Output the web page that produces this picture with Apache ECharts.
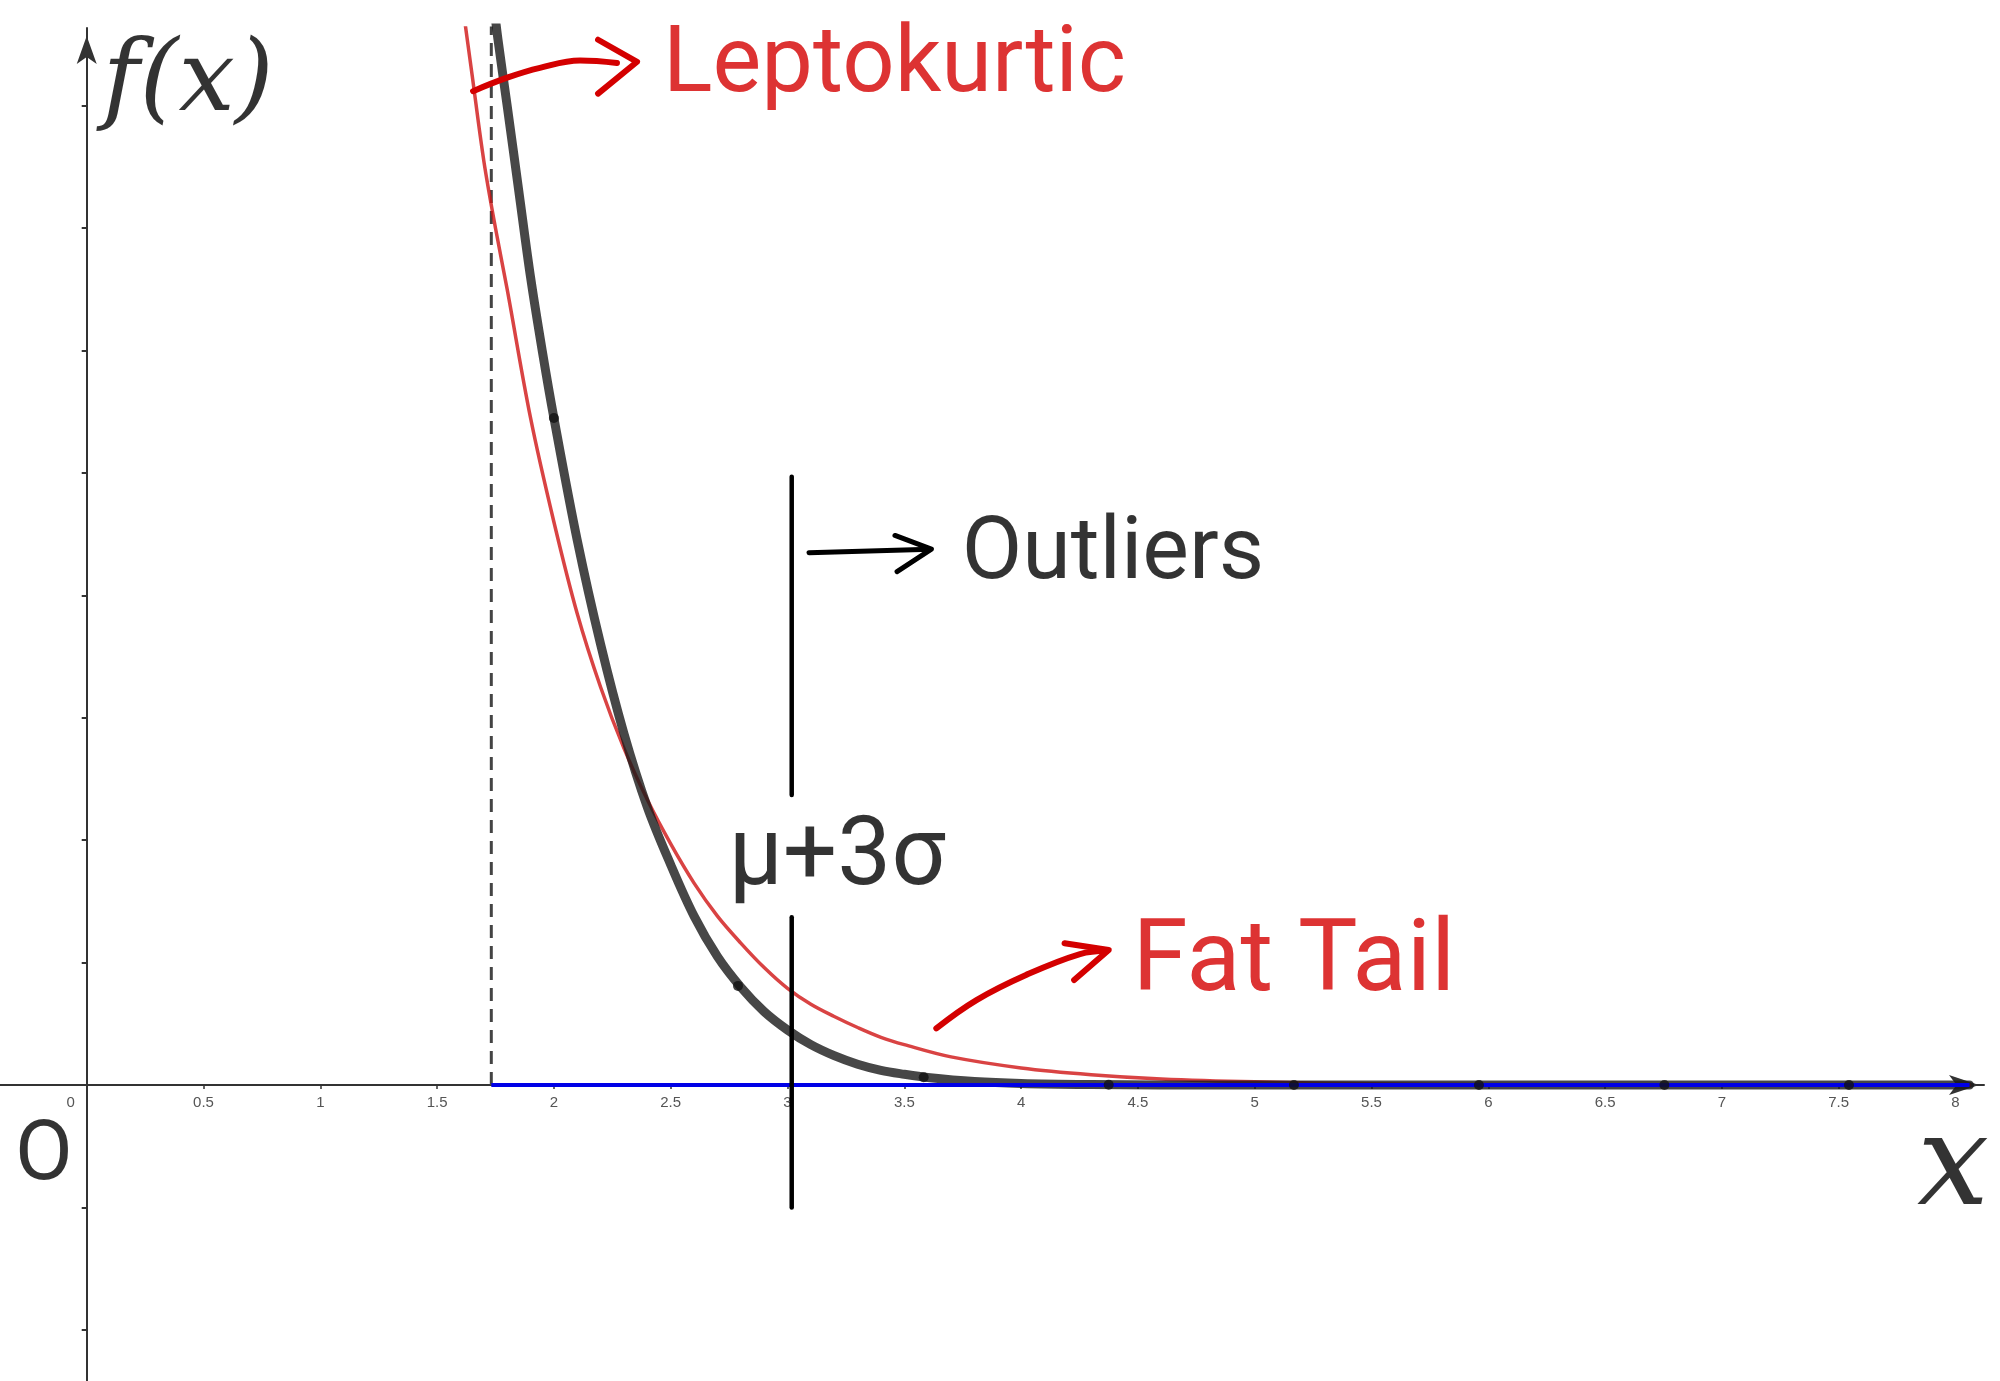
<!DOCTYPE html>
<html>
<head>
<meta charset="utf-8">
<script src="https://cdn.jsdelivr.net/npm/echarts@6/dist/echarts.min.js"></script>
<style>html,body{margin:0;padding:0;background:#fff}#c{width:2000px;height:1381px}</style>
</head>
<body>
<div id="c"></div>
<script>
// ---- data ----
const xTickValues = [0,0.5,1,1.5,2,2.5,3,3.5,4,4.5,5,5.5,6,6.5,7,7.5,8];
const yTickValues = [-2,-1,1,2,3,4,5,6,7,8];

// thick dark curve (normal tail, starts at x = sqrt(3))
const normalX = [1.732,1.76,1.8,1.85,1.9,1.95,2.0,2.1,2.2,2.3,2.4,2.5,2.6,2.7,2.8,2.9,3.0,3.1,3.2,3.3,3.4,3.5,3.6,3.8,4.0,4.3,4.6,5.0,6.0,7.0,8.06];
const normalY = [9.0,8.55,8.0,7.3,6.6,6.0,5.45,4.45,3.6,2.87,2.27,1.8,1.38,1.05,0.80,0.60,0.45,0.33,0.24,0.17,0.12,0.088,0.062,0.029,0.013,0.004,0.001,0,0,0,0];

// thin red curve (leptokurtic, fat tail)
const lepX = [1.6,1.65,1.7,1.75,1.8,1.9,2.0,2.1,2.2,2.3,2.4,2.5,2.6,2.7,2.8,2.9,3.0,3.1,3.2,3.3,3.4,3.5,3.7,4.0,4.3,4.6,5.0,5.5,6.0,7.0,8.06];
const lepY = [8.95,8.25,7.55,7.0,6.5,5.45,4.6,3.85,3.25,2.75,2.33,1.97,1.65,1.38,1.16,0.96,0.79,0.66,0.56,0.47,0.39,0.33,0.23,0.14,0.085,0.05,0.026,0.011,0.005,0.001,0];

// sample points on the dark curve
const dotX = [2.0,2.788,3.583,4.375,5.168,5.960,6.754,7.544];
const dotY = [5.45,0.81,0.064,0.003,0,0,0,0];

const sqrt3 = 1.732;
const cutX = 3.018;           // mu + 3 sigma marker
const dashedX = [sqrt3, sqrt3];
const dashedY = [0, 9];
const blueX = [sqrt3, 8.06];
const blueY = [0, 0];
const cutUpperY = [4.97, 2.37];
const cutLowerY = [1.37, -1.0];

// annotation strokes
const lepArrowX = [1.654,1.80,1.940,2.112,2.270];
const lepArrowY = [8.12,8.23,8.31,8.37,8.35];
const lepHeadX = [2.189,2.356,2.189];
const lepHeadY = [8.54,8.36,8.10];
const outArrowX = [3.092,3.610];
const outArrowY = [4.349,4.377];
const outHeadX = [3.460,3.616,3.469];
const outHeadY = [4.49,4.379,4.194];
const tailArrowX = [3.637,3.809,4.021,4.252,4.368];
const tailArrowY = [0.463,0.694,0.899,1.070,1.097];
const tailHeadX = [4.186,4.375,4.227];
const tailHeadY = [1.158,1.103,0.858];

// annotation texts
const noteText  = ['f(x)','Leptokurtic','Outliers','\u03bc+3\u03c3','Fat Tail','O','x'];
const noteX     = [0.434, 3.458, 4.393, 3.212, 5.168, -0.183, 7.99];
const noteY     = [8.18, 8.31, 4.32, 1.84, 0.98, -0.60, -0.70];
const noteColor = ['#000','#d40000','#000','#000','#d40000','#000','#000'];
const noteSize  = [100, 92, 88, 96, 100, 84, 128];
const noteFont  = ['DejaVu Serif','Roboto','Roboto','Roboto','Roboto','Roboto','DejaVu Serif'];
const noteStyle = ['italic','normal','normal','normal','normal','normal','italic'];

// ---- helpers ----
const zip = (xs, ys) => xs.map((x, i) => [x, ys[i]]);
const stroke = (name, xs, ys, color, width, extra) => Object.assign({
  type: 'line', name, data: zip(xs, ys), showSymbol: false, symbol: 'none',
  lineStyle: { color, width, cap: 'round', join: 'round' }, clip: true, silent: true, z: 5
}, extra || {});

const Y_MIN = -2.418, Y_MAX = 8.636, GRID_TOP = 28, GRID_H = 1381 - GRID_TOP;
const zeroOffset = -(GRID_H * (0 - Y_MIN) / (Y_MAX - Y_MIN));

const chart = echarts.init(document.getElementById('c'), null, { renderer: 'canvas' });
chart.setOption({
  animation: false,
  backgroundColor: '#ffffff',
  grid: { left: 0, right: 16, top: GRID_TOP, bottom: 0, containLabel: false },
  xAxis: {
    type: 'value', min: -0.3712, max: 8.122, position: 'bottom', offset: zeroOffset,
    axisLine: { onZero: false, lineStyle: { color: '#333', width: 2 }, symbol: ['none', 'arrow'], symbolSize: [15, 30], symbolOffset: [0, -5] },
    axisTick: { show: true, length: 4, customValues: xTickValues, lineStyle: { color: '#333', width: 1.5 } },
    axisLabel: {
      customValues: xTickValues, margin: 10, color: '#555', fontSize: 15, fontFamily: 'Liberation Sans',
      formatter: v => v === 0 ? '{o|0}' : String(v),
      rich: { o: { padding: [0, 32, 0, 0], color: '#555', fontSize: 15, fontFamily: 'Liberation Sans' } }
    },
    splitLine: { show: false }
  },
  yAxis: {
    type: 'value', min: Y_MIN, max: Y_MAX,
    axisLine: { onZero: true, lineStyle: { color: '#333', width: 2 }, symbol: ['none', 'arrow'], symbolSize: [15, 28], symbolOffset: [0, -8] },
    axisTick: { show: true, length: 5, customValues: yTickValues, lineStyle: { color: '#333', width: 2 } },
    axisLabel: { show: false },
    splitLine: { show: false }
  },
  series: [
    stroke('dashed', dashedX, dashedY, '#444', 3, { lineStyle: { color: '#444', width: 3, type: [13, 8] }, z: 3 }),
    stroke('leptokurtic', lepX, lepY, 'rgba(208,20,20,0.8)', 3.5, { smooth: 0.35, z: 3 }),
    stroke('normal', normalX, normalY, 'rgba(25,25,25,0.8)', 9, { smooth: 0.35, z: 4 }),
    stroke('support', blueX, blueY, '#0000e6', 4, { lineStyle: { color: '#0000e6', width: 4, cap: 'butt' }, z: 4 }),
    {
      type: 'scatter', name: 'points', data: zip(dotX, dotY), symbolSize: 10,
      itemStyle: { color: '#111' }, silent: true, z: 4
    },
    stroke('cutUpper', [cutX, cutX], cutUpperY, '#000', 4.5),
    stroke('cutLower', [cutX, cutX], cutLowerY, '#000', 4.5),
    stroke('lepArrow', lepArrowX, lepArrowY, '#d40000', 6, { smooth: 0.4 }),
    stroke('lepHead', lepHeadX, lepHeadY, '#d40000', 6),
    stroke('outArrow', outArrowX, outArrowY, '#000', 5),
    stroke('outHead', outHeadX, outHeadY, '#000', 5),
    stroke('tailArrow', tailArrowX, tailArrowY, '#d40000', 6, { smooth: 0.4 }),
    stroke('tailHead', tailHeadX, tailHeadY, '#d40000', 6),
    {
      type: 'scatter', name: 'notes', symbolSize: 1, silent: true, z: 6,
      itemStyle: { color: 'rgba(0,0,0,0)' },
      data: noteText.map((t, i) => ({
        value: [noteX[i], noteY[i]],
        label: {
          show: true, position: 'inside', formatter: t, color: noteColor[i],
          fontSize: noteSize[i], fontFamily: noteFont[i], fontStyle: noteStyle[i],
          align: 'center', verticalAlign: 'middle'
        }
      }))
    }
  ]
});
</script>
</body>
</html>
